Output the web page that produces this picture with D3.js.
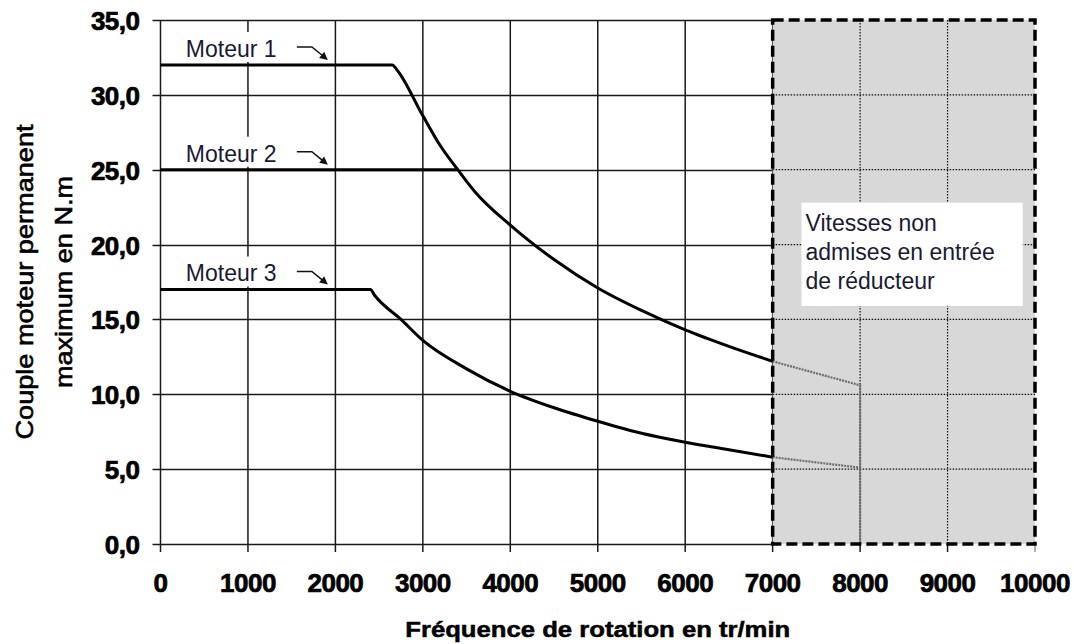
<!DOCTYPE html>
<html>
<head>
<meta charset="utf-8">
<script src="https://cdn.jsdelivr.net/npm/d3@7"></script>
<style>
  html, body { margin: 0; padding: 0; background: #fff; overflow: hidden; }
  svg { display: block; }
</style>
</head>
<body>
<svg id="chart"></svg>
<script>
// values
const xTicks = [0, 1000, 2000, 3000, 4000, 5000, 6000, 7000, 8000, 9000, 10000];
const yTicks = [0, 5, 10, 15, 20, 25, 30, 35];

const moteur1X = [0, 2650, 2700, 3000, 3200, 3400, 3600, 4000, 4500, 5000, 5500, 6000, 6500, 7000];
const moteur1Y = [32, 32, 31.7, 28.6, 26.6, 25.0, 23.5, 21.3, 19.0, 17.1, 15.6, 14.3, 13.2, 12.2];
const moteur2X = [0, 3400];
const moteur2Y = [25, 25];
const moteur3X = [0, 2400, 2450, 2750, 3000, 3500, 4000, 4500, 5000, 5500, 6000, 6500, 7000];
const moteur3Y = [17, 17, 16.6, 15.0, 13.6, 11.7, 10.2, 9.1, 8.2, 7.4, 6.8, 6.3, 5.8];

// parts drawn in grey inside the forbidden zone
const moteur1ExtX = [7000, 7500, 8000, 8000];
const moteur1ExtY = [12.2, 11.4, 10.6, 0];
const moteur3ExtX = [7000, 7500, 8000];
const moteur3ExtY = [5.8, 5.45, 5.1];

const labels = ['Moteur 1', 'Moteur 2', 'Moteur 3'];
const labelLevels = [32, 25, 17];
const zoneStart = 7000;
const zoneEnd = 10000;
const zoneText = ['Vitesses non', 'admises en entrée', 'de réducteur'];

const width = 1074;
const height = 644;
const margin = { top: 20, right: 39, bottom: 100, left: 160.5 };

const svg = d3.select('#chart')
  .attr('width', width)
  .attr('height', height);

const x = d3.scaleLinear()
  .domain([0, 10000])
  .range([margin.left, width - margin.right]);

const y = d3.scaleLinear()
  .domain([0, 35])
  .range([height - margin.bottom, margin.top]);

// pixel-snapped position of a gridline
const snap = v => Math.round(v) + 0.5;

// vertical grid in the allowed zone
svg.selectAll('.vgrid')
  .data(xTicks.filter(d => d <= zoneStart))
  .enter()
  .append('line')
  .attr('class', 'vgrid')
  .attr('x1', d => x(d))
  .attr('x2', d => x(d))
  .attr('y1', y(35))
  .attr('y2', y(0) + 8)
  .style('stroke', '#1a1a1a')
  .style('stroke-width', 1.5);

// horizontal grid of the allowed zone, as one snapped path
svg.append('path')
  .attr('class', 'hgridpath')
  .attr('d', yTicks.map(d => `M${x(0) - 8},${snap(y(d))}H${x(zoneStart)}`).join(''))
  .attr('fill', 'none')
  .attr('shape-rendering', 'crispEdges')
  .style('stroke', '#1a1a1a')
  .style('stroke-width', 1.5);

// same lines again, drawn as dashed lines with an invisible gap
svg.selectAll('.hgrid')
  .data(yTicks)
  .enter()
  .append('line')
  .attr('class', 'hgrid')
  .attr('x1', x(0) - 8)
  .attr('x2', x(zoneStart))
  .attr('y1', d => snap(y(d)))
  .attr('y2', d => snap(y(d)))
  .style('stroke', '#1a1a1a')
  .style('stroke-width', 1.4)
  .style('stroke-dasharray', '900,0.5');

// ticks under the zone
svg.selectAll('.xtick')
  .data(xTicks.filter(d => d > zoneStart))
  .enter()
  .append('line')
  .attr('class', 'xtick')
  .attr('x1', d => x(d))
  .attr('x2', d => x(d))
  .attr('y1', y(0))
  .attr('y2', y(0) + 8)
  .style('stroke', d => d === 10000 ? '#999' : '#1a1a1a')
  .style('stroke-width', 1.5);

// shaded zone
svg.append('rect')
  .attr('x', x(zoneStart))
  .attr('y', y(35))
  .attr('width', x(zoneEnd) - x(zoneStart))
  .attr('height', y(0) - y(35))
  .attr('fill', '#d8d8d8');

// dotted grid in the zone
svg.selectAll('.dh')
  .data(yTicks.filter(d => d > 0 && d < 35))
  .enter()
  .append('line')
  .attr('class', 'dh')
  .attr('x1', x(zoneStart))
  .attr('x2', x(zoneEnd))
  .attr('y1', d => y(d))
  .attr('y2', d => y(d))
  .style('stroke', '#111')
  .style('stroke-width', 1.2)
  .style('stroke-dasharray', '1.5,1.5');

svg.selectAll('.dv')
  .data(xTicks.filter(d => d > zoneStart && d < zoneEnd))
  .enter()
  .append('line')
  .attr('class', 'dv')
  .attr('x1', d => x(d))
  .attr('x2', d => x(d))
  .attr('y1', y(35))
  .attr('y2', y(0))
  .style('stroke', '#111')
  .style('stroke-width', 1.2)
  .style('stroke-dasharray', '1.5,1.5');

// text box in the zone
const boxX = x(7330), boxY = y(22.8);
svg.append('rect')
  .attr('x', boxX)
  .attr('y', boxY)
  .attr('width', x(9860) - boxX)
  .attr('height', y(15.9) - boxY)
  .attr('fill', '#fff');
svg.selectAll('.zonetext')
  .data(zoneText)
  .enter()
  .append('text')
  .attr('class', 'zonetext')
  .attr('x', boxX + 4)
  .attr('y', (d, i) => boxY + 28 + i * 29)
  .attr('font-family', 'Liberation Sans, Arial, sans-serif')
  .attr('font-size', 23)
  .attr('fill', '#1a1a33')
  .text(d => d);

// motor labels with arrows
labels.forEach((name, i) => {
  const by = y(labelLevels[i]) - 8;
  const lx = x(290);
  svg.append('rect')
    .attr('x', lx - 6)
    .attr('y', by - 25)
    .attr('width', 152)
    .attr('height', 30)
    .attr('fill', '#fff');
  svg.append('text')
    .attr('x', lx)
    .attr('y', by)
    .attr('font-family', 'Liberation Sans, Arial, sans-serif')
    .attr('font-size', 23)
    .attr('fill', '#1a1a33')
    .text(name);
  const sx = lx + 126, sy = by - 10, ex = lx + 142, ey = by + 3;
  const len = Math.hypot(ex - sx, ey - sy);
  const ux = (ex - sx) / len, uy = (ey - sy) / len;
  svg.append('path')
    .attr('d', `M${lx + 111},${sy} L${sx},${sy} L${ex - ux * 5},${ey - uy * 5}`)
    .attr('fill', 'none')
    .style('stroke', '#111')
    .style('stroke-width', 1.5);
  svg.append('path')
    .attr('d', `M${ex},${ey} L${ex - ux * 8 - uy * 4},${ey - uy * 8 + ux * 4} L${ex - ux * 8 + uy * 4},${ey - uy * 8 - ux * 4} Z`)
    .style('fill', '#111');
});

// curves
const lineGen = d3.line()
  .x(d => x(d[0]))
  .y(d => y(d[1]))
  .curve(d3.curveMonotoneX);
const straight = d3.line().x(d => x(d[0])).y(d => y(d[1]));
const series = [
  [moteur1X, moteur1Y],
  [moteur2X, moteur2Y],
  [moteur3X, moteur3Y]
];
const ext = [
  [moteur1ExtX, moteur1ExtY],
  [moteur3ExtX, moteur3ExtY]
];

svg.selectAll('.ext')
  .data(ext)
  .enter()
  .append('path')
  .attr('class', 'ext')
  .attr('d', d => straight(d[0].map((v, i) => [v, d[1][i]])))
  .attr('fill', 'none')
  .style('stroke', '#6e6e6e')
  .style('stroke-width', 2.2)
  .style('stroke-dasharray', '2,1');

svg.selectAll('.curve')
  .data(series)
  .enter()
  .append('path')
  .attr('class', 'curve')
  .attr('d', d => lineGen(d[0].map((v, i) => [v, d[1][i]])))
  .attr('fill', 'none')
  .style('stroke', '#000')
  .style('stroke-width', 3)
  .style('stroke-linejoin', 'round');

// dashed border of the zone
svg.append('rect')
  .attr('x', x(zoneStart))
  .attr('y', y(35))
  .attr('width', x(zoneEnd) - x(zoneStart))
  .attr('height', y(0) - y(35))
  .attr('fill', 'none')
  .style('stroke', '#000')
  .style('stroke-width', 3.5)
  .style('stroke-dasharray', '11,5');

// tick labels
const tickFont = 'Liberation Sans, Arial, sans-serif';
svg.selectAll('.ylab')
  .data(yTicks)
  .enter()
  .append('text')
  .attr('class', 'ylab')
  .attr('x', x(0) - 21)
  .attr('y', d => y(d) + 10)
  .attr('text-anchor', 'end')
  .attr('font-family', tickFont)
  .attr('font-weight', 'bold')
  .attr('font-size', 26)
  .attr('letter-spacing', -0.5)
  .style('stroke', '#000')
  .style('stroke-width', 0.7)
  .text(d => d.toFixed(1).replace('.', ','));

svg.selectAll('.xlab')
  .data(xTicks)
  .enter()
  .append('text')
  .attr('class', 'xlab')
  .attr('x', d => x(d))
  .attr('y', y(0) + 48)
  .attr('text-anchor', 'middle')
  .attr('font-family', tickFont)
  .attr('font-weight', 'bold')
  .attr('font-size', 26)
  .attr('letter-spacing', -0.5)
  .style('stroke', '#000')
  .style('stroke-width', 0.7)
  .text(d => d);

// axis titles
svg.append('text')
  .attr('x', (x(0) + x(10000)) / 2)
  .attr('y', 637)
  .attr('text-anchor', 'middle')
  .attr('font-family', tickFont)
  .attr('font-weight', 'bold')
  .attr('font-size', 22)
  .attr('textLength', 385)
  .attr('lengthAdjust', 'spacingAndGlyphs')
  .style('stroke', '#000')
  .style('stroke-width', 0.5)
  .text('Fréquence de rotation en tr/min');

const yTitle = ['Couple moteur permanent', 'maximum en N.m'];
const yTitleLen = [315, 212];
svg.selectAll('.ytitle')
  .data(yTitle)
  .enter()
  .append('text')
  .attr('class', 'ytitle')
  .attr('transform', (d, i) => `translate(${33 + i * 39},282) rotate(-90)`)
  .attr('text-anchor', 'middle')
  .attr('font-family', tickFont)
  .attr('font-size', 24)
  .attr('textLength', (d, i) => yTitleLen[i])
  .attr('lengthAdjust', 'spacingAndGlyphs')
  .style('stroke', '#000')
  .style('stroke-width', 0.6)
  .text(d => d);
</script>
</body>
</html>
